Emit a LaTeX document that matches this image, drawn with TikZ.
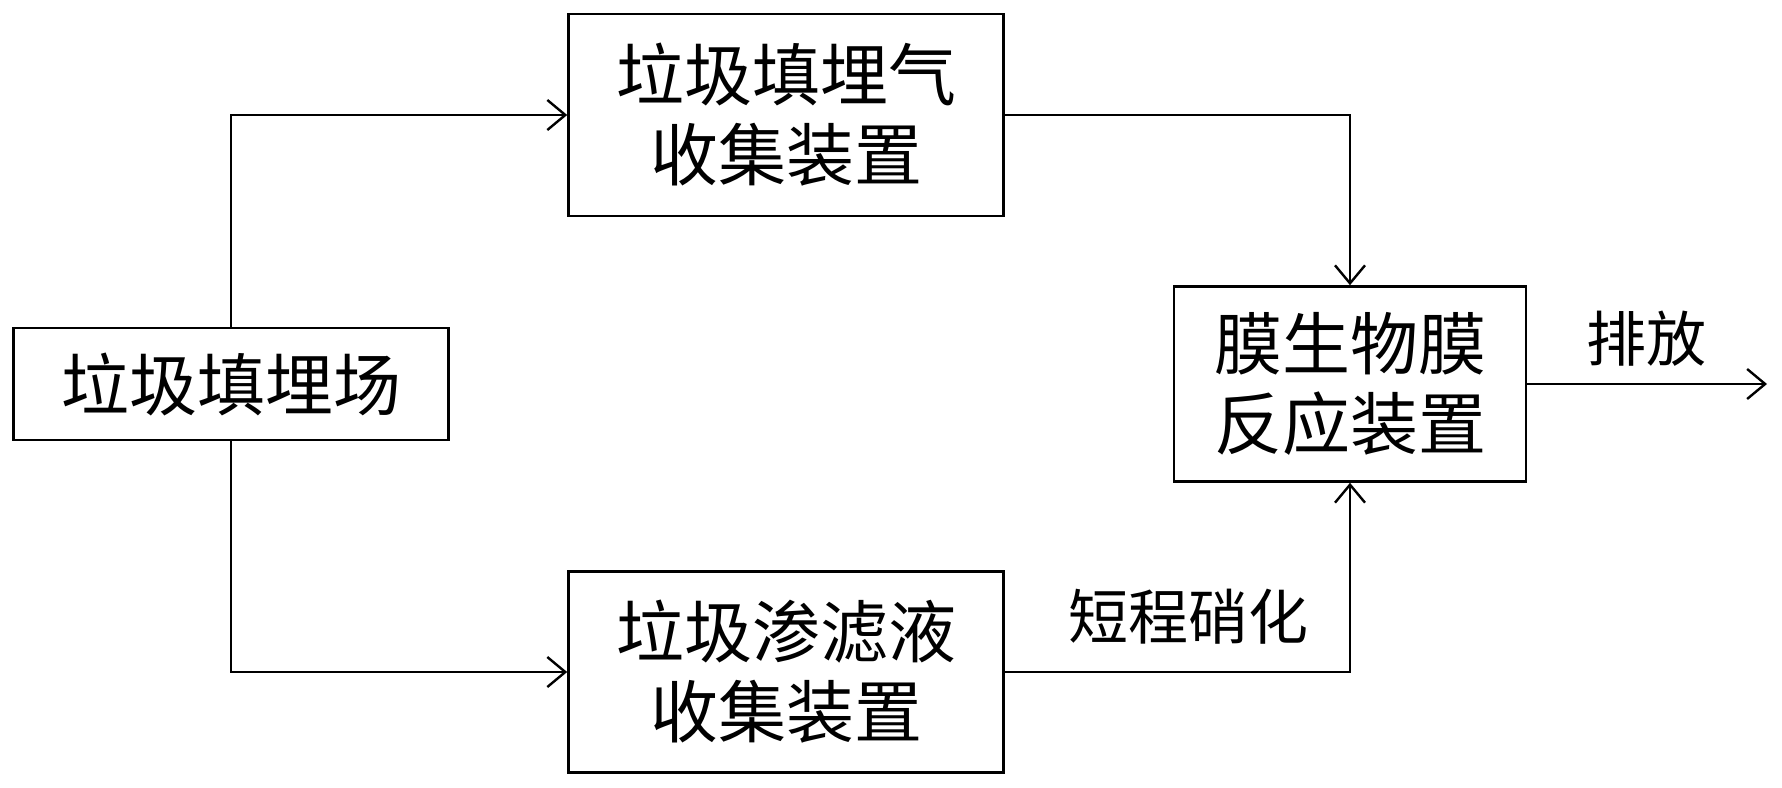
\documentclass[tikz,border=0pt]{standalone}
\usepackage{fontspec}
\newfontfamily\cjk{Noto Sans CJK SC}
\usetikzlibrary{arrows.meta}
\begin{document}
\begin{tikzpicture}[x=1pt,y=-1pt,
  box/.style={draw,line width=2.6pt,rectangle,inner sep=0pt,align=center,
    font=\cjk\fontsize{68}{80}\selectfont},
  lbl/.style={inner sep=0pt,font=\cjk\fontsize{60}{70}\selectfont},
  conn/.style={line width=2.4pt,-{Straight Barb[length=18pt,width=30pt,line width=2.4pt]}}]
\useasboundingbox (0,0) rectangle (1782,787);
\node[box,minimum width=435pt,minimum height=112pt] (landfill) at (231,384) {垃圾填埋场};
\node[box,minimum width=435pt,minimum height=202pt] (gas) at (786,115) {垃圾填埋气\\收集装置};
\node[box,minimum width=435pt,minimum height=201pt] (leach) at (786,672) {垃圾渗滤液\\收集装置};
\node[box,minimum width=352pt,minimum height=195pt] (mbr) at (1350,384) {膜生物膜\\反应装置};
\coordinate (out) at (1767,384);
\draw[conn] (landfill.north) |- (gas.west);
\draw[conn] (landfill.south) |- (leach.west);
\draw[conn] (gas.east) -| (mbr.north);
\draw[conn] (leach.east) -| (mbr.south);
\draw[conn] (mbr.east) -- (out);
\node[lbl] (dis) at (1646,339) {排放};
\node[lbl] (nit) at (1188,617) {短程硝化};
\end{tikzpicture}
\end{document}
